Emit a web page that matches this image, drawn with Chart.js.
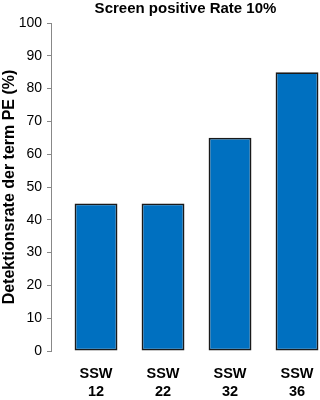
<!DOCTYPE html>
<html><head><meta charset="utf-8">
<script src="https://cdn.jsdelivr.net/npm/chart.js@4"></script>
<style>html,body{margin:0;padding:0;background:#fff}#w{width:320px;height:400px}</style>
</head><body><div id="w"><canvas id="c" width="320" height="400"></canvas></div>
<script>
const categories = [["SSW","12"],["SSW","22"],["SSW","32"],["SSW","36"]];
const values = [45, 45, 65, 85];
const yTicks = [0,10,20,30,40,50,60,70,80,90,100];
const titleText = "Screen positive Rate 10%";
const yTitle = "Detektionsrate der term PE (%)";

const FONT = "'Liberation Sans', Arial, sans-serif";
new Chart(document.getElementById('c'), {
  type: 'bar',
  data: {
    datasets: [{
      data: values.map((v,i)=>({x:i,y:v})),
      backgroundColor: '#0070C0',
      borderColor: '#1a1a1a',
      borderWidth: 1.8,
      borderSkipped: false,
      barPercentage: 1,
      categoryPercentage: 0.64
    }]
  },
  options: {
    responsive: false,
    animation: false,
    layout: {padding: {left: 0, right: 0, top: 0, bottom: 0}},
    plugins: {
      legend: {display: false},
      tooltip: {enabled: false},
      title: {display: true, fullSize: false, text: titleText, color: '#000',
        font: {family: FONT, size: 15, weight: 'bold'}, padding: {top: 0, bottom: 5}}
    },
    scales: {
      x: {
        type: 'linear', min: -0.672, max: 3.343, offset: false,
        grid: {display: false, drawTicks: false, offset: false},
        border: {display: false},
        afterFit: s => { s.height = 49; s.paddingLeft = 0; s.paddingRight = 0; },
        ticks: {
          stepSize: 1, includeBounds: false, autoSkip: false, maxRotation: 0,
          padding: 14, color: '#000',
          font: {family: FONT, size: 14.5, weight: 'bold', lineHeight: 1.25},
          callback: v => (Number.isInteger(v) && categories[v]) ? categories[v] : ''
        }
      },
      y: {
        min: 0, max: 100,
        afterBuildTicks: s => { s.ticks = yTicks.map(v=>({value:v})); },
        afterFit: s => { s.width = 51; s.paddingTop = 0; s.paddingBottom = 0; },
        grid: {drawOnChartArea: false, drawTicks: true, tickLength: 4, color: '#888', lineWidth: 1},
        border: {display: true, color: '#888', width: 1},
        ticks: {color: '#000', padding: 5, font: {family: FONT, size: 14}},
        title: {display: true, text: yTitle, color: '#000', padding: {top: 0, bottom: 0},
          font: {family: FONT, size: 16, weight: 'bold'}}
      }
    }
  }
});
</script></body></html>
